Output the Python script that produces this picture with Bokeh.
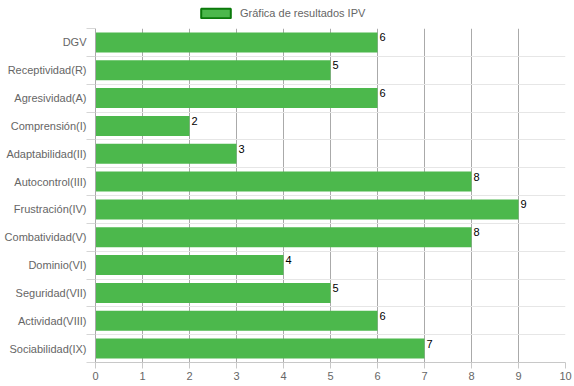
from bokeh.plotting import figure
from bokeh.layouts import column
from bokeh.models import Range1d, FixedTicker, Legend, LegendItem, ColumnDataSource
from bokeh.embed import file_html
from bokeh.resources import INLINE
from bokeh.core.properties import value

categories = ["DGV", "Receptividad(R)", "Agresividad(A)", "Comprensión(I)",
              "Adaptabilidad(II)", "Autocontrol(III)", "Frustración(IV)",
              "Combatividad(V)", "Dominio(VI)", "Seguridad(VII)",
              "Actividad(VIII)", "Sociabilidad(IX)"]
values = [6, 5, 6, 2, 3, 8, 9, 8, 4, 5, 6, 7]
x_ticks = list(range(0, 11))
series_name = "Gráfica de resultados IPV"

n = len(categories)
# each category occupies 2 y-units; centres at odd integers
ys = [2 * (n - 1 - i) + 1 for i in range(n)]
bar_h = 1.44
src = ColumnDataSource(dict(cat=categories, val=values, y=ys,
                            ytop=[y + bar_h / 2 for y in ys],
                            lbl=[str(v) for v in values]))

FONT = "Liberation Sans"
FS = "11px"

# ---- legend strip ----
top = figure(width=574, height=28, output_backend="svg", toolbar_location=None,
             x_range=Range1d(0, 1), y_range=Range1d(0, 1),
             x_axis_location=None, y_axis_location=None,
             min_border=0, outline_line_color=None)
top.xgrid.visible = False
top.ygrid.visible = False
dummy = top.hbar(y=[0], left=[0], right=[0], height=0, fill_color="#4cb84c",
                 line_color="#0b7a0b", line_width=2)
legend = Legend(items=[LegendItem(label=series_name, renderers=[dummy])],
                orientation="horizontal", location=(102, 9),
                glyph_width=37, glyph_height=12, label_standoff=6,
                label_text_font=FONT, label_text_font_size=FS,
                label_text_color="#666666", border_line_color=None,
                background_fill_alpha=0, padding=3, margin=0)
top.add_layout(legend, "center")

# ---- main chart ----
p = figure(width=574, height=358, output_backend="svg", toolbar_location=None,
           x_range=Range1d(0, 10), y_range=Range1d(0, 2 * n),
           min_border_left=95, min_border_right=9, min_border_bottom=24,
           min_border_top=0, outline_line_color=None)

p.hbar(y='y', left=0, right='val', height=bar_h, fill_color="#4cb84c",
       line_color=None, source=src)

p.text(x='val', y='ytop', text='lbl', x_offset=2, y_offset=1,
       text_baseline='top', text_align='left', text_font_size='11px',
       text_color='black', text_font=value(FONT), source=src)

# grids
p.xgrid.ticker = FixedTicker(ticks=x_ticks)
p.xgrid.grid_line_color = "#aaaaaa"
p.ygrid.ticker = FixedTicker(ticks=list(range(0, 2 * n + 1, 2)))
p.ygrid.grid_line_color = "#e6e6e6"

# x axis
p.xaxis.ticker = FixedTicker(ticks=x_ticks)
p.xaxis.axis_line_color = "#c8c8c8"
p.xaxis.major_tick_line_color = "#c8c8c8"
p.xaxis.major_tick_out = 6
p.xaxis.major_tick_in = 0
p.xaxis.minor_tick_line_color = None
p.xaxis.major_label_standoff = 3
p.xaxis.major_label_text_font = FONT
p.xaxis.major_label_text_font_size = FS
p.xaxis.major_label_text_color = "#666666"

# y axis
p.yaxis.ticker = FixedTicker(ticks=ys, minor_ticks=list(range(0, 2 * n + 1, 2)))
p.yaxis.major_label_overrides = {y: c for y, c in zip(ys, categories)}
p.yaxis.axis_line_color = "#aaaaaa"
p.yaxis.major_tick_line_color = None
p.yaxis.major_tick_out = 0
p.yaxis.major_tick_in = 0
p.yaxis.minor_tick_line_color = "#d6d6d6"
p.yaxis.minor_tick_out = 9
p.yaxis.minor_tick_in = 0
p.yaxis.major_label_standoff = 0
p.yaxis.major_label_text_font = FONT
p.yaxis.major_label_text_font_size = FS
p.yaxis.major_label_text_color = "#666666"

layout = column(top, p, spacing=0)
open("out.html", "w").write(file_html(layout, INLINE))
